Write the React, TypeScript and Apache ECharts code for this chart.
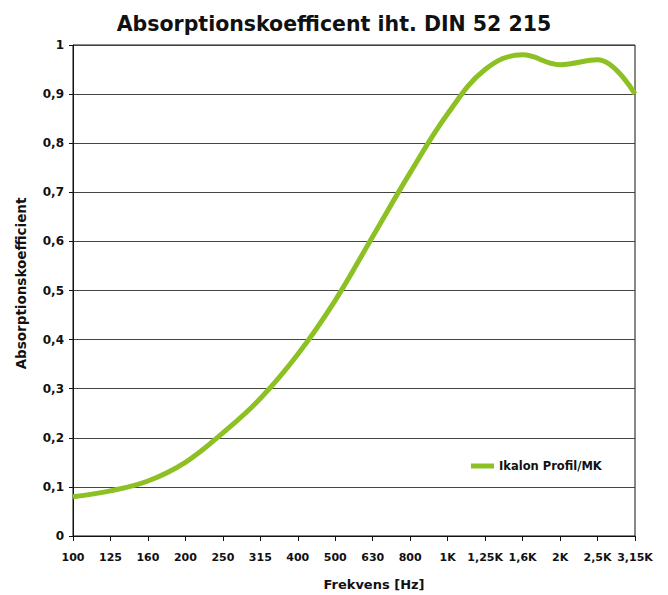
import React, { useEffect, useRef } from "react";
import * as echarts from "echarts";

const categories = ["100", "125", "160", "200", "250", "315", "400", "500", "630", "800", "1K", "1,25K", "1,6K", "2K", "2,5K", "3,15K"];
const absorption = [0.08, 0.092, 0.112, 0.15, 0.21, 0.28, 0.37, 0.48, 0.61, 0.74, 0.86, 0.95, 0.98, 0.96, 0.97, 0.9];
const seriesName = "Ikalon Profil/MK";
const titleText = "Absorptionskoefficent iht. DIN 52 215";
const yName = "Absorptionskoefficient";
const xName = "Frekvens [Hz]";

const FONT = "'DejaVu Sans', sans-serif";

export default function App() {
  const ref = useRef<HTMLDivElement>(null);
  useEffect(() => {
    if (!ref.current) return;
    const chart = echarts.init(ref.current, undefined, { renderer: "svg" });
    chart.setOption({
      animation: false,
      backgroundColor: "#ffffff",
      title: {
        text: titleText,
        left: "center",
        top: 8,
        textStyle: { fontFamily: FONT, fontWeight: "bold", fontSize: 20.5, color: "#111" },
      },
      legend: {
        data: [seriesName],
        left: 466,
        top: 455,
        icon: "rect",
        itemWidth: 23,
        itemHeight: 5,
        textStyle: { fontFamily: FONT, fontWeight: "bold", fontSize: 11.5, color: "#111" },
      },
      grid: {
        left: 73,
        right: 33,
        top: 45,
        bottom: 59,
        show: true,
        borderColor: "#111",
        borderWidth: 1,
        containLabel: false,
        outerBoundsMode: "none",
      },
      xAxis: {
        type: "category",
        data: categories,
        boundaryGap: false,
        name: xName,
        nameLocation: "middle",
        nameGap: 42,
        nameTextStyle: { fontFamily: FONT, fontWeight: "bold", fontSize: 13, color: "#111", padding: [0, 0, 0, 40] },
        axisLine: { lineStyle: { color: "#111", width: 1 } },
        axisTick: { show: true, length: 5, alignWithLabel: true, lineStyle: { color: "#111" } },
        axisLabel: { interval: 0, margin: 16, fontFamily: FONT, fontWeight: "bold", fontSize: 11, color: "#111" },
        splitLine: { show: false },
      },
      yAxis: {
        type: "value",
        min: 0,
        max: 1,
        interval: 0.1,
        name: yName,
        nameLocation: "middle",
        nameGap: 45,
        nameTextStyle: { fontFamily: FONT, fontWeight: "bold", fontSize: 13.5, color: "#111", padding: [0, 0, 0, 14] },
        axisLine: { show: true, lineStyle: { color: "#111", width: 1 } },
        axisTick: { show: true, length: 4, inside: false, lineStyle: { color: "#111" } },
        axisLabel: {
          margin: 9,
          fontFamily: FONT,
          fontWeight: "bold",
          fontSize: 12,
          color: "#111",
          formatter: (v: number) => String(Math.round(v * 10) / 10).replace(".", ","),
        },
        splitLine: { show: true, lineStyle: { color: "#444", width: 1 } },
      },
      series: [
        {
          name: seriesName,
          type: "line",
          data: absorption,
          smooth: 0.4,
          showSymbol: false,
          symbol: "none",
          lineStyle: { color: "#8cc023", width: 5 },
          itemStyle: { color: "#8cc023" },
        },
      ],
    });
    return () => chart.dispose();
  }, []);
  return <div ref={ref} style={{ position: "fixed", left: 0, top: 0, width: 668, height: 595 }} />;
}
